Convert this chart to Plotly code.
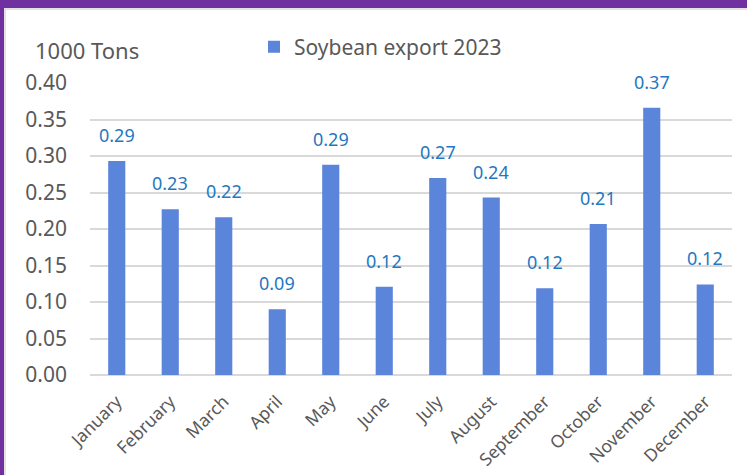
import plotly.graph_objects as go

# Monthly soybean exports, 2023 (thousand tons)
months = ["January", "February", "March", "April", "May", "June",
          "July", "August", "September", "October", "November", "December"]
exports = [0.293, 0.227, 0.216, 0.090, 0.288, 0.121,
           0.270, 0.243, 0.119, 0.207, 0.366, 0.124]
y_ticks = [0.00, 0.05, 0.10, 0.15, 0.20, 0.25, 0.30, 0.35, 0.40]

W, H = 747, 475
ML, MR, MT, MB = 90, 15, 83, 100
PW, PH = W - ML - MR, H - MT - MB

FONT = "Noto Sans"
GREY = "#595959"
BAR = "#5B84DB"
LABEL = "#1F78C1"
FRAME = "#7030A0"


def px_x(p):
    return (p - ML) / PW


def px_y(p):
    return (H - MB - p) / PH


fig = go.Figure()
fig.add_trace(go.Bar(
    x=months, y=exports, name="Soybean export 2023",
    marker=dict(color=BAR, line=dict(width=0)),
    hoverinfo="x+y",
))

# value labels above each bar
for m, v in zip(months, exports):
    fig.add_annotation(
        x=m, y=v, text=f"{v:.2f}", showarrow=False,
        yanchor="middle", yshift=26,
        font=dict(family=FONT, size=18, color=LABEL),
    )

# axis unit
fig.add_annotation(
    xref="paper", yref="paper", x=px_x(33), y=px_y(50),
    xanchor="left", yanchor="middle", text="1000 Tons", showarrow=False,
    font=dict(family=FONT, size=22, color=GREY),
)

# purple frame along the top and left edges, with a thin grey inner rule
fig.add_shape(type="rect", xref="paper", yref="paper", layer="above",
              x0=px_x(0), x1=px_x(W), y0=px_y(8), y1=px_y(0),
              fillcolor=FRAME, line=dict(width=0))
fig.add_shape(type="rect", xref="paper", yref="paper", layer="above",
              x0=px_x(0), x1=px_x(4), y0=px_y(H), y1=px_y(0),
              fillcolor=FRAME, line=dict(width=0))
fig.add_shape(type="line", xref="paper", yref="paper",
              x0=px_x(4), x1=px_x(W), y0=px_y(9), y1=px_y(9),
              line=dict(color="#D9D9D9", width=1.5))
fig.add_shape(type="line", xref="paper", yref="paper",
              x0=px_x(5), x1=px_x(5), y0=px_y(H), y1=px_y(9),
              line=dict(color="#D9D9D9", width=1.5))

fig.update_layout(
    width=W, height=H,
    margin=dict(l=ML, r=MR, t=MT, b=MB, pad=0, autoexpand=False),
    paper_bgcolor="white", plot_bgcolor="white",
    bargap=0.68,
    showlegend=True,
    legend=dict(
        orientation="h", x=px_x(254), y=px_y(47), xanchor="left", yanchor="middle",
        font=dict(family=FONT, size=21, color=GREY), itemwidth=30,
        bgcolor="rgba(0,0,0,0)",
    ),
    font=dict(family=FONT, color=GREY),
    xaxis=dict(
        tickangle=-45, tickfont=dict(family=FONT, size=17.5, color=GREY),
        showgrid=False, showline=False, ticks="", zeroline=False,
        ticklabelstandoff=12, automargin=False,
    ),
    yaxis=dict(
        range=[0, 0.4], tickvals=y_ticks,
        ticktext=[f"{t:.2f}" for t in y_ticks],
        tickfont=dict(family=FONT, size=21, color=GREY),
        showgrid=True, gridcolor="#D9D9D9", gridwidth=1.5,
        zeroline=True, zerolinecolor="#D9D9D9", zerolinewidth=1.5,
        ticks="", ticklabelstandoff=22, showline=False, automargin=False,
    ),
)

fig.write_html("out.html")
